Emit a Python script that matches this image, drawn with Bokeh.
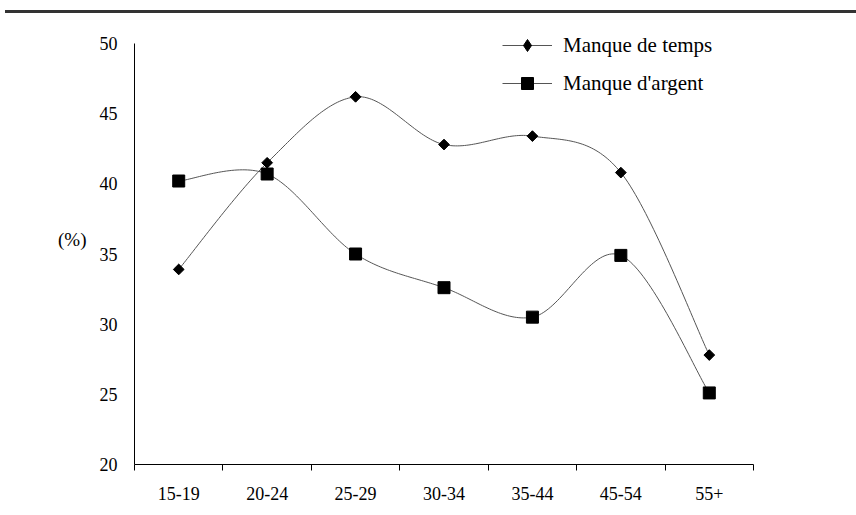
import numpy as np
from bokeh.plotting import figure
from bokeh.models import FixedTicker, Legend, LegendItem, Div, Range1d
from bokeh.layouts import column
from bokeh.embed import file_html
from bokeh.resources import INLINE

categories = ["15-19", "20-24", "25-29", "30-34", "35-44", "45-54", "55+"]
manque_temps = [33.9, 41.5, 46.2, 42.8, 43.4, 40.8, 27.8]
manque_argent = [40.2, 40.7, 35.0, 32.6, 30.5, 34.9, 25.1]
y_ticks = [20, 25, 30, 35, 40, 45, 50]

FONT = "Liberation Serif"
xs = np.arange(len(categories)) + 0.5


def smooth(xv, yv, n=40):
    P = np.column_stack([xv, yv]).astype(float)
    E = np.vstack([P[0], P, P[-1]])
    out = []
    t = np.linspace(0, 1, n)[:, None]
    for i in range(len(P) - 1):
        p0, p1 = E[i + 1], E[i + 2]
        c1 = p0 + (p1 - E[i]) / 6.0
        c2 = p1 - (E[i + 3] - p0) / 6.0
        seg = (1 - t) ** 3 * p0 + 3 * (1 - t) ** 2 * t * c1 + 3 * (1 - t) * t ** 2 * c2 + t ** 3 * p1
        out.append(seg if i == 0 else seg[1:])
    a = np.vstack(out)
    return a[:, 0], a[:, 1]


FIG_H = 502
PX_PER_UNIT = 421 / 30.0
frame_h = FIG_H - 51
p = figure(width=856, height=FIG_H, x_range=Range1d(0, 7),
           y_range=Range1d(20, 20 + frame_h / PX_PER_UNIT),
           output_backend="svg", toolbar_location=None,
           min_border_left=134, min_border_right=103, min_border_top=0, min_border_bottom=51)
p.grid.visible = False
p.outline_line_color = None
p.background_fill_color = "white"

# axes
p.xaxis.ticker = FixedTicker(ticks=list(xs), minor_ticks=list(range(len(categories) + 1)))
p.xaxis.major_label_overrides = {float(x): c for x, c in zip(xs, categories)}
p.xaxis.major_tick_out = 0
p.xaxis.major_tick_in = 0
p.xaxis.minor_tick_out = 6
p.xaxis.minor_tick_in = 0
p.xaxis.minor_tick_line_color = "black"
p.xaxis.major_label_standoff = 16

p.yaxis.ticker = FixedTicker(ticks=y_ticks)
p.yaxis.bounds = (20, 50)
p.yaxis.minor_tick_line_color = None
p.yaxis.major_tick_out = 5
p.yaxis.major_tick_in = 0
p.yaxis.major_label_standoff = 12
p.yaxis.axis_label = "(%)"
p.yaxis.axis_label_orientation = "horizontal"
p.yaxis.axis_label_standoff = 10
p.yaxis.axis_label_text_font = FONT
p.yaxis.axis_label_text_font_style = "normal"
p.yaxis.axis_label_text_font_size = "19px"
p.yaxis.axis_label_text_color = "black"

for ax in (p.xaxis, p.yaxis):
    ax.axis_line_color = "black"
    ax.major_tick_line_color = "black" if ax is p.yaxis else None
    ax.major_label_text_font = FONT
    ax.major_label_text_font_size = "18px"
    ax.major_label_text_color = "black"

# series
tx, ty = smooth(xs, manque_temps)
ax_, ay_ = smooth(xs, manque_argent)
l1 = p.line(tx, ty, line_color="#555555", line_width=1)
s1 = p.scatter(xs, manque_temps, marker="square", angle=np.pi / 4, size=7.6,
               fill_color="black", line_color="black")
# diamond marker drawn inside the rotated squares; used for the legend glyph
d_leg = p.scatter(xs, manque_temps, marker="diamond", size=9,
                  fill_color="black", line_color="black")
l2 = p.line(ax_, ay_, line_color="#555555", line_width=1)
s2 = p.scatter(xs, manque_argent, marker="square", size=12,
               fill_color="black", line_color="black")

legend = Legend(items=[LegendItem(label="Manque de temps", renderers=[l1, d_leg]),
                       LegendItem(label="Manque d'argent", renderers=[l2, s2])],
                location=(368, 366), orientation="vertical",
                glyph_width=50, glyph_height=30, label_height=30, spacing=8,
                label_standoff=11, padding=0, margin=0,
                border_line_color=None, background_fill_alpha=0,
                label_text_font=FONT, label_text_font_size="21px", label_text_color="black")
p.add_layout(legend, "center")

rule = Div(text="", width=851, height=3, margin=(10, 0, 0, 5),
           styles={"background-color": "#333333"})

layout = column(rule, p, spacing=0)
open("out.html", "w").write(file_html(layout, INLINE))
